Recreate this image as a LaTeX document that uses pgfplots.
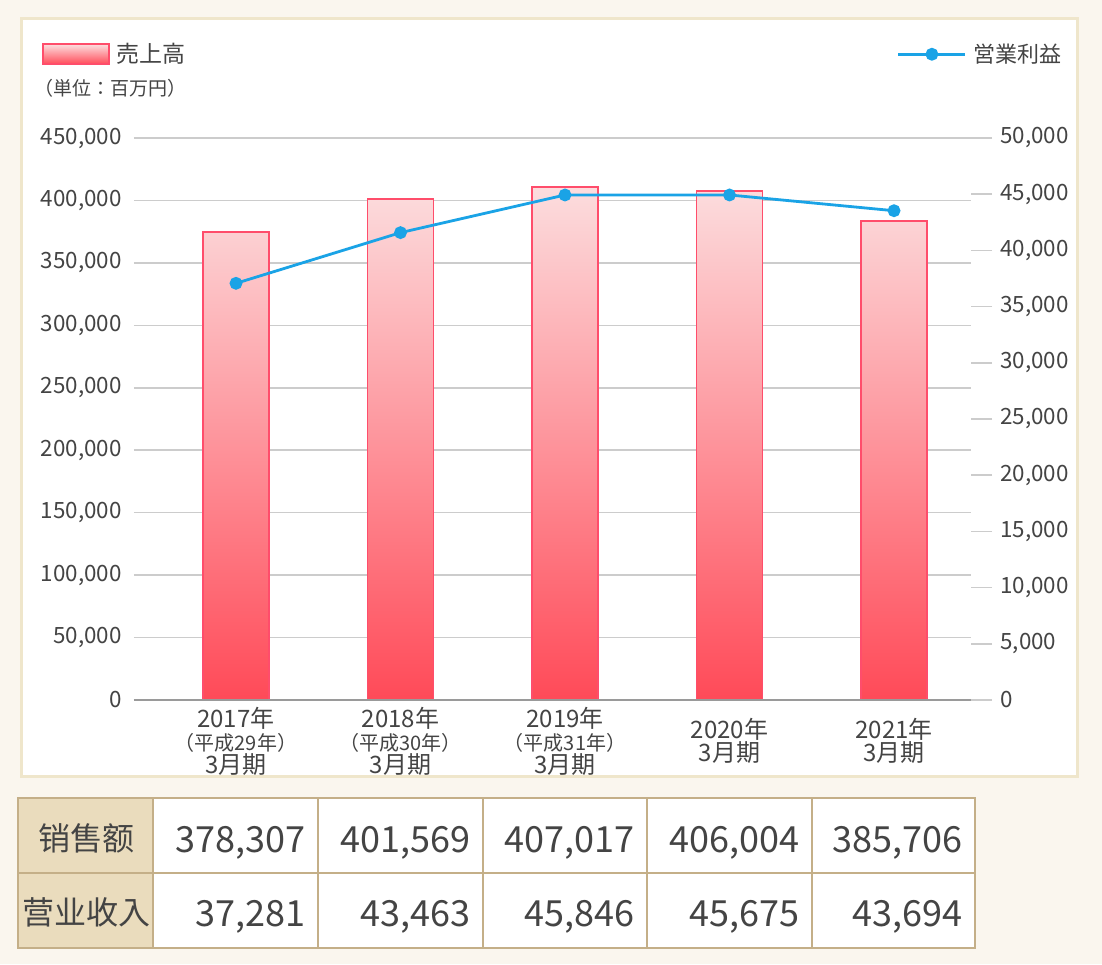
\documentclass[border=0pt]{standalone}
\usepackage{pgfplots}
\pgfplotsset{compat=1.18}
\usepackage{fontspec}
\setmainfont{Noto Sans CJK JP}
\definecolor{bgc}{HTML}{FAF6EE}
\definecolor{panelb}{HTML}{EFE6CB}
\definecolor{gridc}{HTML}{CCCCCC}
\definecolor{axisc}{HTML}{9A9A9A}
\definecolor{txt}{HTML}{444444}
\definecolor{bartop}{HTML}{FCDDDE}
\definecolor{barbot}{HTML}{FF4A58}
\definecolor{barline}{HTML}{FF4D6B}
\definecolor{linec}{HTML}{1AA3E6}
\definecolor{tblb}{HTML}{C4AF88}
\definecolor{tblh}{HTML}{EADCBD}

\begin{document}
\begin{tikzpicture}
\useasboundingbox (0,0) rectangle (551pt,482pt);
\fill[bgc] (0,0) rectangle (551pt,482pt);
\begin{scope}[x=0.5pt,y=-0.5pt,shift={(0pt,482pt)}]
\fill[white, draw=panelb, line width=1.5pt] (21,19) rectangle (1077,776);
\node[anchor=west, inner sep=0pt, text=txt, font=\fontsize{9.5}{11}\selectfont] at (34,88) {（単位：百万円）};
\end{scope}

\begin{axis}[
  at={(67pt,132pt)}, anchor=south west,
  scale only axis, width=418.5pt, height=281pt,
  xmin=-0.62, xmax=4.468, ymin=0, ymax=450000,
  ybar, bar width=33pt,
  axis line style={draw=none},
  ytick={0,50000,...,450000},
  xtick={0,1,2,3,4},
  xticklabels={
    {2017年\\{\fontsize{10}{11.5}\selectfont （平成29年）}\\3月期},
    {2018年\\{\fontsize{10}{11.5}\selectfont （平成30年）}\\3月期},
    {2019年\\{\fontsize{10}{11.5}\selectfont （平成31年）}\\3月期},
    {2020年\\3月期},
    {2021年\\3月期}},
  xticklabel style={align=center, anchor=center, yshift=-20.5pt, font=\fontsize{12}{11.5}\selectfont},
  major tick length=0pt,
  ymajorgrids, grid style={gridc, line width=0.8pt},
  scaled y ticks=false,
  yticklabel={\pgfmathprintnumber[fixed, precision=0, 1000 sep={,}, assume math mode=true]{\tick}},
  tick label style={text=txt},
  yticklabel style={font=\fontsize{11.2}{12}\selectfont, inner sep=0pt, xshift=-6pt},
  legend style={at={(-0.11,1.149)}, anchor=west, draw=none, fill=none, inner sep=0pt, outer sep=0pt,
    font=\fontsize{11.5}{13}\selectfont, text=txt, nodes={inner sep=0pt},
    /tikz/every odd column/.append style={column sep=3.5pt}},
  legend cell align=left,
]
\addplot[draw=barline, line width=0.9pt, top color=bartop, bottom color=barbot,
  legend image code/.code={\draw[draw=barline, line width=0.9pt, top color=bartop, bottom color=barbot] (0pt,-5pt) rectangle (33pt,5pt);}]
  coordinates {(0,374500) (1,401200) (2,411000) (3,407800) (4,383500)};
\addlegendentry{売上高}
\draw[axisc, line width=1.5pt] (rel axis cs:0,0) -- (rel axis cs:1,0);
\end{axis}

\begin{axis}[
  at={(67pt,132pt)}, anchor=south west,
  scale only axis, width=418.5pt, height=281pt,
  xmin=-0.62, xmax=4.468, ymin=0, ymax=50000,
  axis y line*=right, axis x line=none,
  axis line style={draw=none},
  xtick=\empty,
  ytick={0,5000,...,50000},
  tick align=outside, major tick length=10.5pt,
  ytick style={gridc, line width=0.8pt},
  scaled y ticks=false,
  yticklabel={\pgfmathprintnumber[fixed, precision=0, 1000 sep={,}, assume math mode=true]{\tick}},
  yticklabel style={anchor=west, inner sep=0pt, xshift=4pt, text=txt, font=\fontsize{11.2}{12}\selectfont},
  legend style={at={(1.1085,1.149)}, anchor=east, draw=none, fill=none, inner sep=0pt, outer sep=0pt,
    font=\fontsize{11}{13}\selectfont, text=txt, nodes={inner sep=0pt},
    /tikz/every odd column/.append style={column sep=3.5pt}},
]
\addplot[linec, line width=1.4pt, mark=*, mark size=2.5pt, mark options={fill=linec, draw=linec},
  legend image code/.code={\draw[linec, line width=1.4pt, mark=*, mark size=2.5pt, mark options={fill=linec, draw=linec}, mark repeat=2, mark phase=2] plot coordinates {(0pt,0pt) (16.75pt,0pt) (33.5pt,0pt)};}]
  coordinates {(0,37070) (1,41580) (2,44930) (3,44930) (4,43530)};
\addlegendentry{営業利益}
\end{axis}

\begin{scope}[x=0.5pt,y=-0.5pt,shift={(0pt,482pt)}]
\fill[tblh] (18,798) rectangle (153,948);
\fill[white] (153,798) rectangle (975,948);
\draw[tblb, line width=1pt] (18,798) rectangle (975,948);
\draw[tblb, line width=1pt] (18,873) -- (975,873);
\foreach \xx in {153,318,483,647,812} {\draw[tblb, line width=1pt] (\xx,798) -- (\xx,948);}
\node[text=txt, font=\fontsize{16}{18}\selectfont] at (87,838) {销售额};
\node[text=txt, font=\fontsize{16}{18}\selectfont] at (86,912) {营业收入};
\foreach \xx/\va/\vb in {318/378{,}307/37{,}281, 483/401{,}569/43{,}463, 647/407{,}017/45{,}846, 812/406{,}004/45{,}675, 975/385{,}706/43{,}694} {
  \node[anchor=base east, inner sep=0pt, text=txt, font=\fontsize{18}{20}\selectfont] at (\xx-12,852) {\va};
  \node[anchor=base east, inner sep=0pt, text=txt, font=\fontsize{18}{20}\selectfont] at (\xx-12,926) {\vb};
}
\end{scope}
\end{tikzpicture}
\end{document}
